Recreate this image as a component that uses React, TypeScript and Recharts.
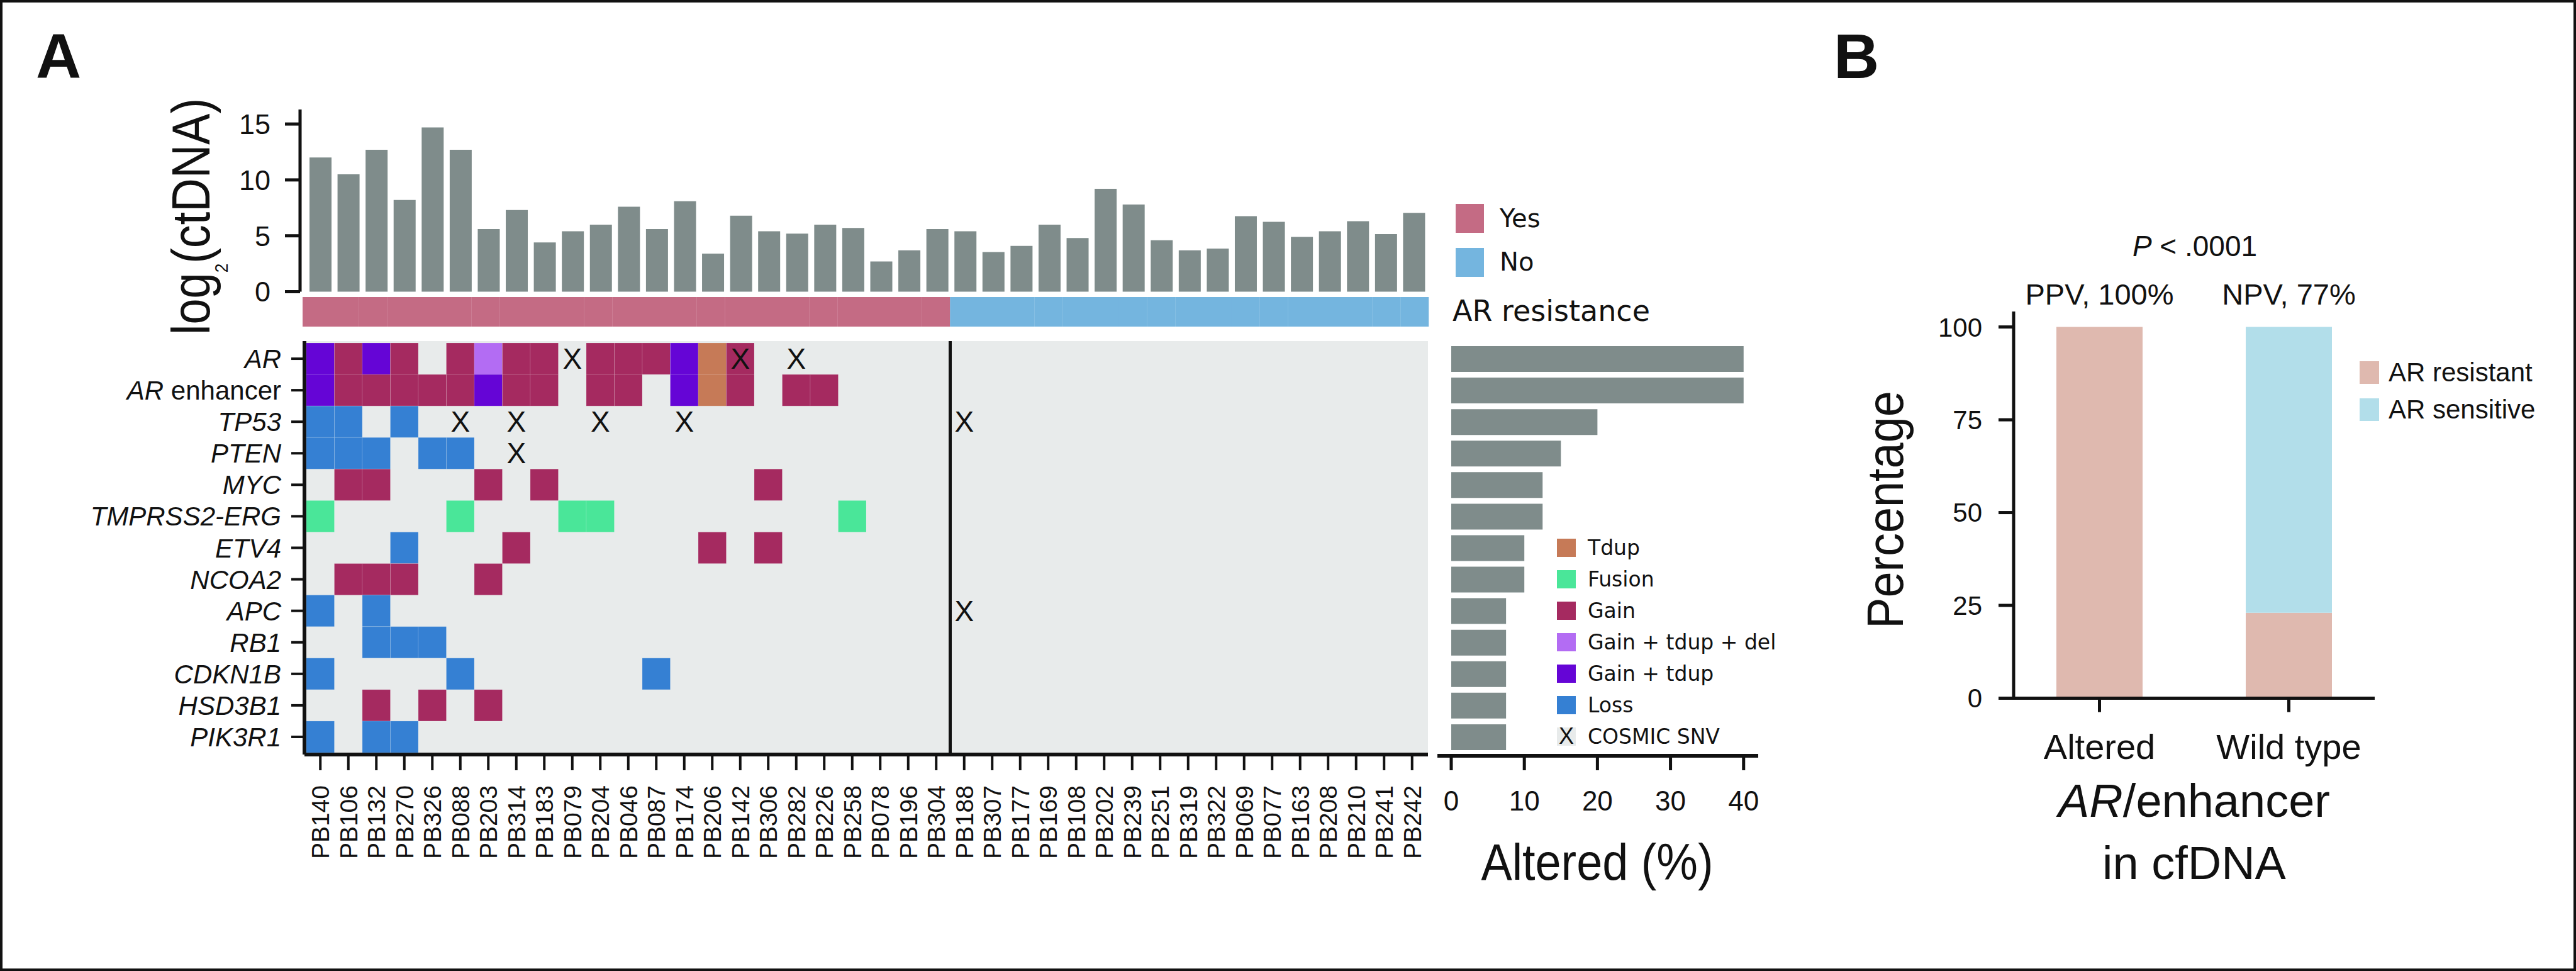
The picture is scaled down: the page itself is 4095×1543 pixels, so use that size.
import React from "react";
import {
  BarChart,
  Bar,
  ScatterChart,
  Scatter,
  XAxis,
  YAxis,
  CartesianGrid,
  ReferenceLine,
  Cell,
  Label,
  LabelList,
} from "recharts";

const INK = "#111111";
const FONT = "'Liberation Sans', Arial, sans-serif";
const WIDE = "'DejaVu Sans', sans-serif";
const BAR_GREY = "#7F8C8B";
const HM_BG = "#E8EBEB";

const SAMPLES = [
  "PB140", "PB106", "PB132", "PB270", "PB326", "PB088", "PB203", "PB314", "PB183", "PB079",
  "PB204", "PB046", "PB087", "PB174", "PB206", "PB142", "PB306", "PB282", "PB226", "PB258",
  "PB078", "PB196", "PB304", "PB188", "PB307", "PB177", "PB169", "PB108", "PB202", "PB239",
  "PB251", "PB319", "PB322", "PB069", "PB077", "PB163", "PB208", "PB210", "PB241", "PB242",
];

const LOG2_CTDNA = [
  12.0, 10.5, 12.7, 8.2, 14.7, 12.7, 5.6, 7.3, 4.4, 5.4,
  6.0, 7.6, 5.6, 8.1, 3.4, 6.8, 5.4, 5.2, 6.0, 5.7,
  2.7, 3.7, 5.6, 5.4, 3.55, 4.1, 6.0, 4.8, 9.2, 7.8,
  4.6, 3.7, 3.85, 6.75, 6.25, 4.9, 5.4, 6.3, 5.15, 7.05,
];

const AR_RESISTANCE = [
  "Yes", "Yes", "Yes", "Yes", "Yes", "Yes", "Yes", "Yes", "Yes", "Yes",
  "Yes", "Yes", "Yes", "Yes", "Yes", "Yes", "Yes", "Yes", "Yes", "Yes",
  "Yes", "Yes", "Yes", "No", "No", "No", "No", "No", "No", "No",
  "No", "No", "No", "No", "No", "No", "No", "No", "No", "No",
];

const GENES = [
  "AR", "AR enhancer", "TP53", "PTEN", "MYC", "TMPRSS2-ERG", "ETV4",
  "NCOA2", "APC", "RB1", "CDKN1B", "HSD3B1", "PIK3R1",
];
const ALTERED_PCT = [40, 40, 20, 15, 12.5, 12.5, 10, 10, 7.5, 7.5, 7.5, 7.5, 7.5];

const AR_ALT = [
  ["PB140", "Gain + tdup"], ["PB106", "Gain"], ["PB132", "Gain + tdup"], ["PB270", "Gain"],
  ["PB088", "Gain"], ["PB203", "Gain + tdup + del"], ["PB314", "Gain"], ["PB183", "Gain"],
  ["PB204", "Gain"], ["PB046", "Gain"], ["PB087", "Gain"], ["PB174", "Gain + tdup"],
  ["PB206", "Tdup"], ["PB142", "Gain"],
];
const ENH_ALT = [
  ["PB140", "Gain + tdup"], ["PB106", "Gain"], ["PB132", "Gain"], ["PB270", "Gain"],
  ["PB326", "Gain"], ["PB088", "Gain"], ["PB203", "Gain + tdup"], ["PB314", "Gain"],
  ["PB183", "Gain"], ["PB204", "Gain"], ["PB046", "Gain"], ["PB174", "Gain + tdup"],
  ["PB206", "Tdup"], ["PB142", "Gain"], ["PB282", "Gain"], ["PB226", "Gain"],
];
const TP53_ALT = [["PB140", "Loss"], ["PB106", "Loss"], ["PB270", "Loss"]];
const PTEN_ALT = [["PB140", "Loss"], ["PB106", "Loss"], ["PB132", "Loss"], ["PB326", "Loss"], ["PB088", "Loss"]];
const MYC_ALT = [["PB106", "Gain"], ["PB132", "Gain"], ["PB203", "Gain"], ["PB183", "Gain"], ["PB306", "Gain"]];
const ERG_ALT = [["PB140", "Fusion"], ["PB088", "Fusion"], ["PB079", "Fusion"], ["PB204", "Fusion"], ["PB258", "Fusion"]];
const ETV4_ALT = [["PB270", "Loss"], ["PB314", "Gain"], ["PB206", "Gain"], ["PB306", "Gain"]];
const NCOA2_ALT = [["PB106", "Gain"], ["PB132", "Gain"], ["PB270", "Gain"], ["PB203", "Gain"]];
const APC_ALT = [["PB140", "Loss"], ["PB132", "Loss"]];
const RB1_ALT = [["PB132", "Loss"], ["PB270", "Loss"], ["PB326", "Loss"]];
const CDKN1B_ALT = [["PB140", "Loss"], ["PB088", "Loss"], ["PB087", "Loss"]];
const HSD3B1_ALT = [["PB132", "Gain"], ["PB326", "Gain"], ["PB203", "Gain"]];
const PIK3R1_ALT = [["PB140", "Loss"], ["PB132", "Loss"], ["PB270", "Loss"]];

const AR_SNV = ["PB079", "PB142", "PB282"];
const TP53_SNV = ["PB088", "PB314", "PB204", "PB174", "PB188"];
const PTEN_SNV = ["PB314"];
const APC_SNV = ["PB188"];

const ALT_BY_GENE = [
  AR_ALT, ENH_ALT, TP53_ALT, PTEN_ALT, MYC_ALT, ERG_ALT, ETV4_ALT,
  NCOA2_ALT, APC_ALT, RB1_ALT, CDKN1B_ALT, HSD3B1_ALT, PIK3R1_ALT,
];
const SNV_BY_GENE = [AR_SNV, [], TP53_SNV, PTEN_SNV, [], [], [], [], APC_SNV, [], [], [], []];

const ALT_TYPES = ["Tdup", "Fusion", "Gain", "Gain + tdup + del", "Gain + tdup", "Loss"];
const ALT_COLORS: Record<string, string> = {
  Tdup: "#C67A57",
  Fusion: "#4AE699",
  Gain: "#A52A60",
  "Gain + tdup + del": "#B36CF3",
  "Gain + tdup": "#6505D6",
  Loss: "#3580D3",
};
const GROUP_COLORS: Record<string, string> = { Yes: "#C46B84", No: "#74B5DF" };

const B_CATS = ["Altered", "Wild type"];
const B_RESISTANT = [100, 23];
const B_SENSITIVE = [0, 77];
const B_HEAD = ["PPV, 100%", "NPV, 77%"];

const CTDNA_TICKS = [0, 5, 10, 15];
const PCT_TICKS = [0, 10, 20, 30, 40];
const B_TICKS = [0, 25, 50, 75, 100];

// heatmap cell box (inside the frame)
const HM_LEFT = 487;
const HM_RIGHT = 2267;
const HM_TOP = 545;
const HM_BOTTOM = 1196;
const CELL_W = (HM_RIGHT - HM_LEFT) / SAMPLES.length;
const CELL_H = (HM_BOTTOM - HM_TOP) / GENES.length;

const ctdnaData = SAMPLES.map((s, i) => ({ sample: s, ctdna: LOG2_CTDNA[i], group: AR_RESISTANCE[i], band: 1 }));
const cellData = ALT_BY_GENE.flatMap((list, r) =>
  list.map(([s, t]) => ({ x: SAMPLES.indexOf(s) + 0.5, y: r + 0.5, type: t }))
);
const snvData = SNV_BY_GENE.flatMap((list, r) =>
  list.map((s) => ({ x: SAMPLES.indexOf(s) + 0.5, y: r + 0.5 }))
);
const colTicks = SAMPLES.map((_, i) => i + 0.5);
const rowTicks = GENES.map((_, i) => i + 0.5);
const pctData = GENES.map((g, i) => ({ gene: g, pct: ALTERED_PCT[i] }));
const bData = B_CATS.map((c, i) => ({ cat: c, res: B_RESISTANT[i], sen: B_SENSITIVE[i], head: B_HEAD[i] }));

const abs: React.CSSProperties = { position: "absolute", left: 0, top: 0 };
const axisLine = (w: number) => ({ stroke: INK, strokeWidth: w });

const CellShape = (p: any) => (
  <rect
    x={p.cx - CELL_W / 2}
    y={p.cy - CELL_H / 2}
    width={CELL_W}
    height={CELL_H}
    fill={ALT_COLORS[p.payload.type]}
    stroke="#ffffff"
    strokeOpacity={0.15}
    strokeWidth={1}
  />
);

const SnvShape = (p: any) => (
  <text x={p.cx} y={p.cy} dy={16} textAnchor="middle" fontSize={46} fontFamily={FONT} fill={INK}>
    X
  </text>
);

const GeneTick = (p: any) => {
  const name = GENES[Math.round(p.payload.value - 0.5)];
  if (name === "AR enhancer") {
    return (
      <text x={p.x} y={p.y} dy={15} textAnchor="end" fontSize={42} fontFamily={FONT} fill={INK}>
        <tspan fontStyle="italic">AR</tspan>
        <tspan> enhancer</tspan>
      </text>
    );
  }
  return (
    <text x={p.x} y={p.y} dy={15} textAnchor="end" fontSize={42} fontStyle="italic" fontFamily={FONT} fill={INK}>
      {name}
    </text>
  );
};

const SampleTick = (p: any) => (
  <text
    transform={`translate(${p.x},${p.y}) rotate(-90)`}
    dy={14}
    textAnchor="end"
    fontSize={39}
    fontFamily={FONT}
    fill={INK}
  >
    {SAMPLES[Math.round(p.payload.value - 0.5)]}
  </text>
);

const LogLabel = () => (
  <text
    transform="translate(333,344) rotate(-90) scale(0.87,1)"
    textAnchor="middle"
    fontSize={85}
    fontFamily={FONT}
    fill={INK}
  >
    log
    <tspan fontSize={30} dy={29}>2</tspan>
    <tspan dy={-29}>(ctDNA)</tspan>
  </text>
);

const AlteredLabel = () => (
  <text transform="translate(2539,1398) scale(0.9,1)" textAnchor="middle" fontSize={82} fontFamily={FONT} fill={INK}>
    Altered (%)
  </text>
);

const PercentLabel = () => (
  <text
    transform="translate(3025,810) rotate(-90) scale(0.9,1)"
    textAnchor="middle"
    fontSize={82}
    fontFamily={FONT}
    fill={INK}
  >
    Percentage
  </text>
);

const EnhancerLabel = () => (
  <g fontFamily={FONT} fill={INK} fontSize={74} textAnchor="middle">
    <text x={3488} y={1298}>
      <tspan fontStyle="italic">AR</tspan>/enhancer
    </text>
    <text x={3488} y={1397}>in cfDNA</text>
  </g>
);

// PPV / NPV headings, centred on each bar
const HeadLabel = (p: any) => (
  <text x={p.x + p.width / 2} y={484} textAnchor="middle" fontSize={47} fontFamily={FONT} fill={INK}>
    {p.value}
  </text>
);

function Overlay() {
  return (
    <svg width={4095} height={1543} style={{ ...abs, pointerEvents: "none" }}>
      <rect x={2} y={2} width={4091} height={1539} fill="none" stroke={INK} strokeWidth={4} />
      <text x={57} y={124} fontSize={100} fontWeight="bold" fontFamily={FONT} fill={INK}>A</text>
      <text x={2915} y={124} fontSize={100} fontWeight="bold" fontFamily={FONT} fill={INK}>B</text>

      <rect x={2314} y={324} width={45} height={46} fill={GROUP_COLORS.Yes} />
      <text x={2384} y={361} fontSize={40} fontFamily={WIDE} fill={INK}>Yes</text>
      <rect x={2314} y={394} width={45} height={46} fill={GROUP_COLORS.No} />
      <text x={2384} y={430} fontSize={40} fontFamily={WIDE} fill={INK}>No</text>
      <text x={2309} y={510} fontSize={46} fontFamily={WIDE} fill={INK}>AR resistance</text>

      {ALT_TYPES.map((t, i) => (
        <g key={t}>
          <rect x={2475} y={856 + i * 50} width={30} height={29} fill={ALT_COLORS[t]} />
          <text x={2524} y={882 + i * 50} fontSize={33} fontFamily={WIDE} fill={INK}>{t}</text>
        </g>
      ))}
      <rect x={2475} y={1156} width={30} height={29} fill={HM_BG} />
      <text x={2490} y={1182} textAnchor="middle" fontSize={36} fontFamily={FONT} fill={INK}>X</text>
      <text x={2524} y={1182} fontSize={33} fontFamily={WIDE} fill={INK}>COSMIC SNV</text>

      <text x={3489} y={407} textAnchor="middle" fontSize={46} fontFamily={FONT} fill={INK}>
        <tspan fontStyle="italic">P</tspan>
        <tspan>{"  < .0001"}</tspan>
      </text>
      <rect x={3751} y={574} width={31} height={36} fill="#DFB9AF" />
      <text x={3797} y={606} fontSize={42} fontFamily={FONT} fill={INK}>AR resistant</text>
      <rect x={3751} y={633} width={31} height={36} fill="#B2DEEA" />
      <text x={3797} y={665} fontSize={42} fontFamily={FONT} fill={INK}>AR sensitive</text>
    </svg>
  );
}

export default function App() {
  return (
    <div style={{ position: "relative", width: 4095, height: 1543, background: "#ffffff", overflow: "hidden" }}>
      <style>{"body{margin:0}"}</style>

      {/* log2(ctDNA) bars */}
      <div style={abs}>
        <BarChart width={2300} height={580} data={ctdnaData} margin={{ top: 174, right: 27, bottom: 116.5, left: 377 }}>
          <XAxis dataKey="sample" height={0} tick={false} tickLine={false} padding={{ left: 10, right: 3 }} axisLine={axisLine(6)} />
          <YAxis
            width={100}
            domain={[0, 16.3]}
            ticks={CTDNA_TICKS}
            interval={0}
            tickSize={24}
            tickMargin={23}
            axisLine={axisLine(5)}
            tickLine={axisLine(5)}
            tick={{ fill: INK, fontSize: 45, fontFamily: FONT }}
          >
            <Label content={LogLabel} />
          </YAxis>
          <Bar dataKey="ctdna" fill={BAR_GREY} barSize={35} isAnimationActive={false} />
        </BarChart>
      </div>

      {/* AR resistance strip */}
      <div style={abs}>
        <BarChart width={2300} height={530} data={ctdnaData} barCategoryGap={0} margin={{ top: 472, right: 29, bottom: 11, left: 481 }}>
          <XAxis dataKey="sample" hide />
          <YAxis hide domain={[0, 1]} />
          <Bar dataKey="band" isAnimationActive={false}>
            {ctdnaData.map((d) => (
              <Cell key={d.sample} fill={GROUP_COLORS[d.group]} />
            ))}
          </Bar>
        </BarChart>
      </div>

      {/* oncoprint heatmap */}
      <div style={abs}>
        <ScatterChart width={2300} height={1400} margin={{ top: 542, right: 30, bottom: 1, left: 384 }}>
          <CartesianGrid fill={HM_BG} horizontal={false} vertical={false} />
          <XAxis
            type="number"
            dataKey="x"
            domain={[0, 40]}
            ticks={colTicks}
            interval={0}
            padding={{ left: 3, right: 3 }}
            height={200}
            tickSize={25}
            tickMargin={24}
            tick={SampleTick}
            axisLine={axisLine(6)}
            tickLine={axisLine(4)}
          />
          <XAxis
            xAxisId="top"
            orientation="top"
            type="number"
            domain={[0, 40]}
            padding={{ left: 3, right: 3 }}
            height={0}
            tick={false}
            tickLine={false}
            axisLine={axisLine(6)}
          />
          <YAxis
            type="number"
            dataKey="y"
            reversed
            domain={[0, 13]}
            ticks={rowTicks}
            interval={0}
            padding={{ top: 3, bottom: 3 }}
            width={100}
            tickSize={21}
            tickMargin={16}
            tick={GeneTick}
            axisLine={axisLine(6)}
            tickLine={axisLine(4)}
          />
          <YAxis
            yAxisId="right"
            orientation="right"
            type="number"
            reversed
            domain={[0, 13]}
            padding={{ top: 3, bottom: 3 }}
            width={0}
            tick={false}
            tickLine={false}
            axisLine={axisLine(6)}
          />
          <Scatter data={cellData} shape={CellShape} isAnimationActive={false} />
          <ReferenceLine x={23} stroke={INK} strokeWidth={5} />
          <Scatter data={snvData} shape={SnvShape} isAnimationActive={false} />
        </ScatterChart>
      </div>

      {/* altered % per gene */}
      <div style={abs}>
        <BarChart layout="vertical" width={2900} height={1543} data={pctData} margin={{ top: 542, right: 105, bottom: 42, left: 2285 }}>
          <XAxis
            type="number"
            domain={[0, 42]}
            ticks={PCT_TICKS}
            interval={0}
            padding={{ left: 22, right: 0 }}
            height={300}
            tickSize={23}
            tickMargin={33}
            tick={{ fill: INK, fontSize: 44, fontFamily: FONT }}
            axisLine={axisLine(6)}
            tickLine={axisLine(5)}
          >
            <Label content={AlteredLabel} />
          </XAxis>
          <YAxis
            type="category"
            dataKey="gene"
            width={0}
            tick={false}
            tickLine={false}
            padding={{ top: 3, bottom: 5 }}
            axisLine={axisLine(6)}
          />
          <Bar dataKey="pct" fill={BAR_GREY} barSize={41} isAnimationActive={false} />
        </BarChart>
      </div>

      {/* panel B */}
      <div style={abs}>
        <BarChart width={4095} height={1543} data={bData} margin={{ top: 495, right: 320, bottom: 333.5, left: 3051 }}>
          <XAxis
            dataKey="cat"
            interval={0}
            padding={{ left: -14, right: -14 }}
            height={100}
            tickSize={22}
            tickMargin={35}
            tick={{ fill: INK, fontSize: 56, fontFamily: FONT }}
            axisLine={axisLine(5)}
            tickLine={axisLine(5)}
          >
            <Label content={EnhancerLabel} />
          </XAxis>
          <YAxis
            domain={[0, 100]}
            ticks={B_TICKS}
            interval={0}
            padding={{ top: 24.6, bottom: 0 }}
            width={150}
            tickSize={24}
            tickMargin={26}
            tick={{ fill: INK, fontSize: 42, fontFamily: FONT }}
            axisLine={axisLine(5)}
            tickLine={axisLine(5)}
          >
            <Label content={PercentLabel} />
          </YAxis>
          <Bar dataKey="res" stackId="s" fill="#DFB9AF" barSize={137} isAnimationActive={false}>
            <LabelList dataKey="head" content={HeadLabel} />
          </Bar>
          <Bar dataKey="sen" stackId="s" fill="#B2DEEA" barSize={137} isAnimationActive={false} />
        </BarChart>
      </div>

      <Overlay />
    </div>
  );
}
